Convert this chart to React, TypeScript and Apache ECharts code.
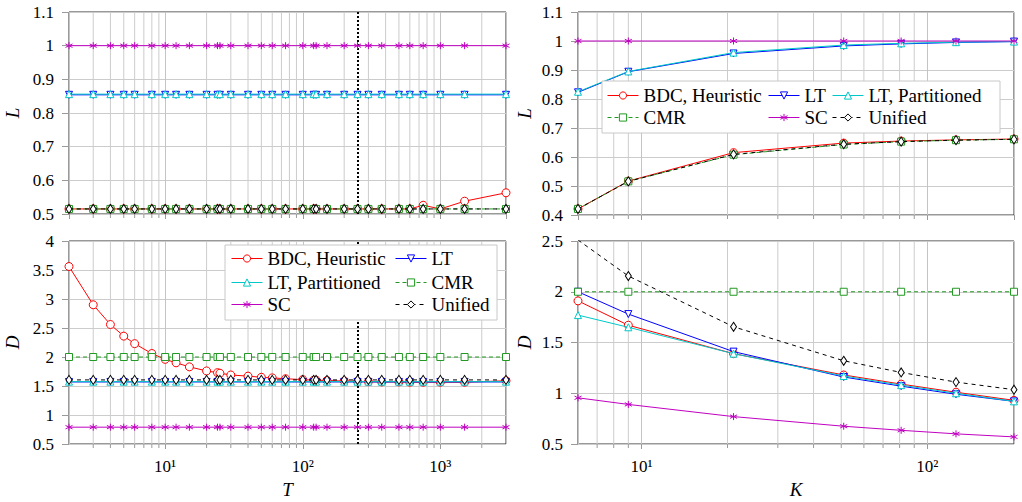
import React, { useEffect, useRef } from 'react';
import * as echarts from 'echarts';

// ---------- data ----------
const T = [2, 3, 4, 5, 6, 8, 10, 12, 15, 20, 24, 25, 30, 40, 50, 60, 75, 100, 120, 125, 150, 200, 250, 300, 375, 500, 600, 750, 1000, 1500, 3000];
const K = [6, 9, 21, 51, 81, 126, 201];

// L versus T (top left)
const L_T_BDC = [0.515, 0.515, 0.515, 0.515, 0.515, 0.515, 0.515, 0.515, 0.515, 0.515, 0.515, 0.515, 0.515, 0.515, 0.515, 0.515, 0.515, 0.515, 0.515, 0.515, 0.515, 0.515, 0.515, 0.515, 0.515, 0.515, 0.515, 0.526, 0.515, 0.538, 0.563];
const L_T_LT = [0.854, 0.854, 0.854, 0.854, 0.854, 0.854, 0.854, 0.854, 0.854, 0.854, 0.854, 0.854, 0.854, 0.854, 0.854, 0.854, 0.854, 0.854, 0.854, 0.854, 0.854, 0.854, 0.854, 0.854, 0.854, 0.854, 0.854, 0.854, 0.854, 0.854, 0.854];
const L_T_LTP = [0.856, 0.856, 0.856, 0.856, 0.856, 0.856, 0.856, 0.856, 0.856, 0.856, 0.856, 0.856, 0.856, 0.856, 0.856, 0.856, 0.856, 0.856, 0.856, 0.856, 0.856, 0.856, 0.856, 0.856, 0.856, 0.856, 0.856, 0.856, 0.856, 0.856, 0.856];
const L_T_CMR = [0.515, 0.515, 0.515, 0.515, 0.515, 0.515, 0.515, 0.515, 0.515, 0.515, 0.515, 0.515, 0.515, 0.515, 0.515, 0.515, 0.515, 0.515, 0.515, 0.515, 0.515, 0.515, 0.515, 0.515, 0.515, 0.515, 0.515, 0.515, 0.515, 0.515, 0.515];
const L_T_SC = [1, 1, 1, 1, 1, 1, 1, 1, 1, 1, 1, 1, 1, 1, 1, 1, 1, 1, 1, 1, 1, 1, 1, 1, 1, 1, 1, 1, 1, 1, 1];
const L_T_UNI = [0.515, 0.515, 0.515, 0.515, 0.515, 0.515, 0.515, 0.515, 0.515, 0.515, 0.515, 0.515, 0.515, 0.515, 0.515, 0.515, 0.515, 0.515, 0.515, 0.515, 0.515, 0.515, 0.515, 0.515, 0.515, 0.515, 0.515, 0.515, 0.515, 0.515, 0.515];

// D versus T (bottom left)
const D_T_BDC = [3.56, 2.9, 2.56, 2.36, 2.23, 2.06, 1.96, 1.9, 1.83, 1.76, 1.73, 1.72, 1.69, 1.67, 1.65, 1.64, 1.625, 1.61, 1.6, 1.6, 1.595, 1.585, 1.58, 1.575, 1.57, 1.57, 1.565, 1.565, 1.565, 1.565, 1.59];
const D_T_LT = [1.57, 1.57, 1.57, 1.57, 1.57, 1.57, 1.57, 1.57, 1.57, 1.57, 1.57, 1.57, 1.57, 1.57, 1.57, 1.57, 1.57, 1.57, 1.57, 1.57, 1.57, 1.57, 1.57, 1.57, 1.57, 1.57, 1.57, 1.57, 1.57, 1.57, 1.57];
const D_T_LTP = [1.575, 1.575, 1.575, 1.575, 1.575, 1.575, 1.575, 1.575, 1.575, 1.575, 1.575, 1.575, 1.575, 1.575, 1.575, 1.575, 1.575, 1.575, 1.575, 1.575, 1.575, 1.575, 1.575, 1.575, 1.575, 1.575, 1.575, 1.575, 1.575, 1.575, 1.575];
const D_T_CMR = [2, 2, 2, 2, 2, 2, 2, 2, 2, 2, 2, 2, 2, 2, 2, 2, 2, 2, 2, 2, 2, 2, 2, 2, 2, 2, 2, 2, 2, 2, 2];
const D_T_SC = [0.79, 0.79, 0.79, 0.79, 0.79, 0.79, 0.79, 0.79, 0.79, 0.79, 0.79, 0.79, 0.79, 0.79, 0.79, 0.79, 0.79, 0.79, 0.79, 0.79, 0.79, 0.79, 0.79, 0.79, 0.79, 0.79, 0.79, 0.79, 0.79, 0.79, 0.79];
const D_T_UNI = [1.605, 1.605, 1.605, 1.605, 1.605, 1.605, 1.605, 1.605, 1.605, 1.605, 1.605, 1.605, 1.605, 1.605, 1.605, 1.605, 1.605, 1.605, 1.605, 1.605, 1.605, 1.605, 1.605, 1.605, 1.605, 1.605, 1.605, 1.605, 1.605, 1.605, 1.605];

// L versus K (top right)
const L_K_BDC = [0.421, 0.517, 0.615, 0.648, 0.655, 0.659, 0.662];
const L_K_LT = [0.823, 0.894, 0.957, 0.983, 0.99, 0.995, 0.998];
const L_K_LTP = [0.825, 0.895, 0.96, 0.986, 0.992, 0.996, 0.998];
const L_K_CMR = [0.421, 0.516, 0.608, 0.643, 0.653, 0.658, 0.661];
const L_K_SC = [1, 1, 1, 1, 1, 1, 1];
const L_K_UNI = [0.421, 0.516, 0.609, 0.644, 0.653, 0.658, 0.661];

// D versus K (bottom right)
const D_K_BDC = [1.91, 1.67, 1.39, 1.18, 1.09, 1.01, 0.93];
const D_K_LT = [2.0, 1.78, 1.41, 1.16, 1.07, 0.99, 0.92];
const D_K_LTP = [1.77, 1.65, 1.39, 1.17, 1.08, 1.0, 0.92];
const D_K_CMR = [2, 2, 2, 2, 2, 2, 2];
const D_K_SC = [0.955, 0.89, 0.77, 0.675, 0.635, 0.6, 0.57];
const D_K_UNI = [2.51, 2.155, 1.655, 1.32, 1.205, 1.11, 1.035];

const T_MINOR = [3, 4, 5, 6, 7, 8, 9, 20, 30, 40, 50, 60, 70, 80, 90, 200, 300, 400, 500, 600, 700, 800, 900, 2000];
const K_MINOR = [7, 8, 9, 20, 30, 40, 50, 60, 70, 80, 90];
const T_MARK = 250;

const NAMES = ['BDC, Heuristic', 'LT', 'LT, Partitioned', 'CMR', 'SC', 'Unified'];

// ---------- styles ----------
const FONT = 'Liberation Serif';
const ASTERISK = 'path://M5,0L5,10M0.67,2.5L9.33,7.5M0.67,7.5L9.33,2.5';
const STY: Record<string, any> = {
  'BDC, Heuristic': { color: '#ff0000', symbol: 'circle', size: 8, dash: 'solid', rot: 0 },
  'LT': { color: '#0000ff', symbol: 'triangle', size: 7, dash: 'solid', rot: 180 },
  'LT, Partitioned': { color: '#00c8c8', symbol: 'triangle', size: 7, dash: 'solid', rot: 0 },
  'CMR': { color: '#229922', symbol: 'rect', size: 7, dash: [4, 3], rot: 0 },
  'SC': { color: '#c000c0', symbol: ASTERISK, size: 7, dash: 'solid', rot: 0 },
  'Unified': { color: '#000000', symbol: 'diamond', size: [6, 9], dash: [4, 4], rot: 0 },
};

const SUP: Record<number, string> = { 0: '⁰', 1: '¹', 2: '²', 3: '³', 4: '⁴' };

function fillOf(name: string) {
  return name === 'SC' ? STY[name].color : '#ffffff';
}

function mkSeries(name: string, xs: number[], ys: number[], gi: number, order: number) {
  const s = STY[name];
  return {
    type: 'line',
    name,
    xAxisIndex: gi,
    yAxisIndex: gi,
    data: xs.map((x, j) => [x, ys[j]]),
    symbol: s.symbol,
    symbolSize: s.size,
    symbolRotate: s.rot,
    showAllSymbol: true,
    clip: true,
    z: 3 + order,
    lineStyle: { color: s.color, width: 1, type: s.dash },
    itemStyle: { color: fillOf(name), borderColor: s.color, borderWidth: 1 },
    emphasis: { disabled: true },
  };
}

function minorSeries(minors: number[], gi: number, yMin: number, yMax: number) {
  return {
    type: 'custom',
    xAxisIndex: gi,
    yAxisIndex: gi,
    z: 1,
    silent: true,
    clip: false,
    encode: { x: 0, y: 1 },
    data: minors.map((v) => [v, yMin]),
    renderItem: (_p: any, api: any) => {
      const top = api.coord([api.value(0), yMax]);
      const bot = api.coord([api.value(0), yMin]);
      return {
        type: 'group',
        children: [
          { type: 'line', shape: { x1: top[0], y1: top[1], x2: bot[0], y2: bot[1] }, style: { stroke: '#cccccc', lineWidth: 1 } },
          { type: 'line', shape: { x1: bot[0], y1: bot[1], x2: bot[0], y2: bot[1] + 4 }, style: { stroke: '#9a9a9a', lineWidth: 1 } },
        ],
      };
    },
  };
}

function markSeries(gi: number) {
  return {
    type: 'line',
    xAxisIndex: gi,
    yAxisIndex: gi,
    data: [],
    z: 12,
    silent: true,
    markLine: {
      silent: true,
      symbol: ['none', 'none'],
      label: { show: false },
      lineStyle: { color: '#000', type: 'dotted', width: 2 },
      data: [{ xAxis: T_MARK }],
    },
  };
}

function logX(gi: number, min: number, max: number, showLabels: boolean, name: string) {
  return {
    type: 'log',
    logBase: 10,
    gridIndex: gi,
    min,
    max,
    name,
    nameLocation: 'middle',
    nameGap: 36,
    nameTextStyle: { fontFamily: FONT, fontSize: 19, fontStyle: 'italic', color: '#000' },
    axisLine: { show: false },
    axisTick: { show: true, length: 5, lineStyle: { color: '#9a9a9a' } },
    axisLabel: {
      show: showLabels,
      margin: 14,
      fontFamily: FONT,
      fontSize: 17,
      color: '#000',
      showMinLabel: false,
      showMaxLabel: false,
      formatter: (v: number) => {
        const e = Math.log10(v);
        if (Math.abs(e - Math.round(e)) < 1e-6) return '10' + SUP[Math.round(e)];
        return '';
      },
    },
    splitLine: { show: true, lineStyle: { color: '#c4c4c4', width: 1 } },
  };
}

function valY(gi: number, min: number, max: number, interval: number, name: string, gap: number) {
  return {
    type: 'value',
    gridIndex: gi,
    min,
    max,
    interval,
    name,
    nameLocation: 'middle',
    nameGap: gap,
    nameTextStyle: { fontFamily: FONT, fontSize: 19, fontStyle: 'italic', color: '#000' },
    axisLine: { show: false },
    axisTick: { show: true, length: 7, lineStyle: { color: '#9a9a9a' } },
    axisLabel: { margin: 15, fontFamily: FONT, fontSize: 17, color: '#000' },
    splitLine: { show: true, lineStyle: { color: '#cccccc', width: 1 } },
  };
}

function leg(name: string, left: number, centerY: number) {
  const s = STY[name];
  return {
    padding: 0,
    itemWidth: 31,
    itemHeight: 9,
    selectedMode: false,
    z: 20,
    left,
    top: centerY - 10,
    textStyle: { fontFamily: FONT, fontSize: 19, color: '#000' },
    data: [
      {
        name,
        itemStyle: { color: fillOf(name), borderColor: s.color, borderWidth: 1 },
        lineStyle: { color: s.color, width: 1, type: s.dash },
      },
    ],
  };
}

export default function App() {
  const ref = useRef<HTMLDivElement>(null);
  useEffect(() => {
    if (!ref.current) return;
    const chart = echarts.init(ref.current, null, { renderer: 'svg' });

    const grids = [
      { left: 69, top: 12, width: 437, height: 202 },
      { left: 69, top: 241, width: 437, height: 203 },
      { left: 578, top: 12, width: 436, height: 203 },
      { left: 578, top: 241, width: 436, height: 203 },
    ].map((g) => ({ ...g, show: true, borderColor: '#333', borderWidth: 1, backgroundColor: 'transparent' }));

    const series: any[] = [];
    const sets = [
      { gi: 0, xs: T, ys: [L_T_BDC, L_T_LT, L_T_LTP, L_T_CMR, L_T_SC, L_T_UNI] },
      { gi: 1, xs: T, ys: [D_T_BDC, D_T_LT, D_T_LTP, D_T_CMR, D_T_SC, D_T_UNI] },
      { gi: 2, xs: K, ys: [L_K_BDC, L_K_LT, L_K_LTP, L_K_CMR, L_K_SC, L_K_UNI] },
      { gi: 3, xs: K, ys: [D_K_BDC, D_K_LT, D_K_LTP, D_K_CMR, D_K_SC, D_K_UNI] },
    ];
    series.push(minorSeries(T_MINOR, 0, 0.5, 1.1));
    series.push(minorSeries(T_MINOR, 1, 0.5, 4));
    series.push(minorSeries(K_MINOR, 2, 0.4, 1.1));
    series.push(minorSeries(K_MINOR, 3, 0.5, 2.5));
    sets.forEach((st) => {
      NAMES.forEach((n, i) => series.push(mkSeries(n, st.xs, st.ys[i], st.gi, i)));
    });
    series.push(markSeries(0));
    series.push(markSeries(1));

    const option: any = {
      animation: false,
      backgroundColor: '#fff',
      grid: grids,
      xAxis: [
        logX(0, 2, 3000, false, ''),
        logX(1, 2, 3000, true, 'T'),
        logX(2, 6, 201, false, ''),
        logX(3, 6, 201, true, 'K'),
      ],
      yAxis: [
        valY(0, 0.5, 1.1, 0.1, 'L', 47),
        valY(1, 0.5, 4, 0.5, 'D', 47),
        valY(2, 0.4, 1.1, 0.1, 'L', 44),
        valY(3, 0.5, 2.5, 0.5, 'D', 44),
      ],
      legend: [
        leg('BDC, Heuristic', 607, 96),
        leg('LT', 768, 96),
        leg('LT, Partitioned', 832, 96),
        leg('CMR', 607, 118),
        leg('SC', 768, 118),
        leg('Unified', 832, 118),
        leg('BDC, Heuristic', 231, 259),
        leg('LT', 395, 259),
        leg('LT, Partitioned', 231, 283),
        leg('CMR', 395, 283),
        leg('SC', 231, 305),
        leg('Unified', 395, 305),
      ],
      graphic: [
        { type: 'rect', z: 15, shape: { x: 602, y: 81, width: 398, height: 52 }, style: { fill: '#fff', stroke: '#c8c8c8', lineWidth: 1 } },
        { type: 'rect', z: 15, shape: { x: 225, y: 245, width: 272, height: 75 }, style: { fill: '#fff', stroke: '#c8c8c8', lineWidth: 1 } },
      ],
      series,
    };
    chart.setOption(option);
    return () => chart.dispose();
  }, []);
  return <div ref={ref} style={{ position: 'fixed', left: 0, top: 0, width: 1022, height: 502 }} />;
}
